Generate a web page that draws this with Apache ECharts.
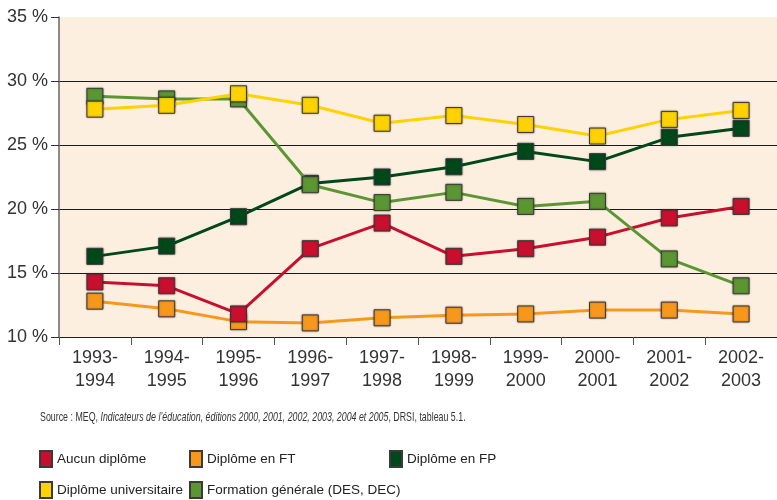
<!DOCTYPE html>
<html>
<head>
<meta charset="utf-8">
<script src="https://cdn.jsdelivr.net/npm/echarts@6/dist/echarts.min.js"></script>
<style>
html,body{margin:0;padding:0;background:#fff;}
#c{width:777px;height:500px;}
</style>
</head>
<body>
<div id="c"></div>
<script>
var categories = ['1993-\n1994','1994-\n1995','1995-\n1996','1996-\n1997','1997-\n1998','1998-\n1999','1999-\n2000','2000-\n2001','2001-\n2002','2002-\n2003'];
var aucunDiplome = [14.3, 14.0, 11.8, 16.9, 18.9, 16.3, 16.9, 17.8, 19.3, 20.2];
var diplomeFT = [12.8, 12.2, 11.2, 11.1, 11.5, 11.7, 11.8, 12.1, 12.1, 11.8];
var diplomeFP = [16.3, 17.1, 19.4, 22.0, 22.5, 23.3, 24.5, 23.7, 25.6, 26.3];
var diplomeUniv = [27.8, 28.1, 29.0, 28.1, 26.7, 27.3, 26.6, 25.7, 27.0, 27.7];
var formationGen = [28.8, 28.6, 28.6, 21.9, 20.5, 21.3, 20.2, 20.6, 16.1, 14.0];
var yTicks = [10, 15, 20, 25, 30, 35];

var FONT = "'Liberation Sans','Arial',sans-serif";

function mk(name, data, color, z) {
  return {
    name: name, type: 'line', data: data, z: z,
    symbol: 'rect', symbolSize: 16,
    lineStyle: {color: color, width: 3},
    itemStyle: {color: color, borderColor: '#3a3a3a', borderWidth: 1, shadowBlur: 2, shadowColor: 'rgba(0,0,0,0.35)'},
    emphasis: {disabled: true},
    animation: false
  };
}

function lg(name, left, top) {
  return {
    data: [name], left: left, top: top, padding: 0,
    itemWidth: 12, itemHeight: 16, itemGap: 0,
    icon: 'rect',
    textStyle: {fontFamily: FONT, fontSize: 13.5, color: '#222'},
    selectedMode: false
  };
}

var chart = echarts.init(document.getElementById('c'), null, {renderer: 'canvas'});
chart.setOption({
  animation: false,
  backgroundColor: '#fff',
  grid: {left: 59, top: 17, width: 720, height: 320, show: true, backgroundColor: '#FCEFE0', borderWidth: 0},
  xAxis: {
    type: 'category', data: categories, boundaryGap: true,
    axisLine: {lineStyle: {color: '#222', width: 1}},
    axisTick: {show: true, length: 8, interval: 0, lineStyle: {color: '#555'}},
    axisLabel: {fontFamily: FONT, fontSize: 18, color: '#333', lineHeight: 23, margin: 10, interval: 0}
  },
  yAxis: {
    type: 'value', min: yTicks[0], max: yTicks[yTicks.length-1], interval: 5,
    axisLine: {show: true, lineStyle: {color: '#666', width: 1.5}},
    axisTick: {show: true, length: 8, lineStyle: {color: '#333'}},
    axisLabel: {fontFamily: FONT, fontSize: 18, color: '#333', margin: 11, formatter: '{value} %'},
    splitLine: {show: true, showMinLine: false, showMaxLine: false, lineStyle: {color: '#1a1a1a', width: 1}}
  },
  legend: [
    lg('Aucun diplôme', 39, 450),
    lg('Diplôme en FT', 189, 450),
    lg('Diplôme en FP', 389, 450),
    lg('Diplôme universitaire', 39, 481),
    lg('Formation générale (DES, DEC)', 189, 481)
  ],
  graphic: [{
    type: 'text', x: 40, y: 417, scaleX: 0.68,
    style: {
      text: '{n|Source : MEQ, }{i|Indicateurs de l’éducation, éditions 2000, 2001, 2002, 2003, 2004 et 2005}{n|, DRSI, tableau 5.1.}',
      verticalAlign: 'middle',
      rich: {
        n: {fontFamily: FONT, fontSize: 13, fill: '#333'},
        i: {fontFamily: FONT, fontSize: 13, fontStyle: 'italic', fill: '#333'}
      }
    }
  }],
  series: [
    mk('Diplôme en FT', diplomeFT, '#F7981D', 2),
    mk('Aucun diplôme', aucunDiplome, '#C8102E', 3),
    mk('Diplôme en FP', diplomeFP, '#00481A', 4),
    mk('Formation générale (DES, DEC)', formationGen, '#5B9632', 5),
    mk('Diplôme universitaire', diplomeUniv, '#FFD200', 6)
  ]
});
</script>
</body>
</html>
